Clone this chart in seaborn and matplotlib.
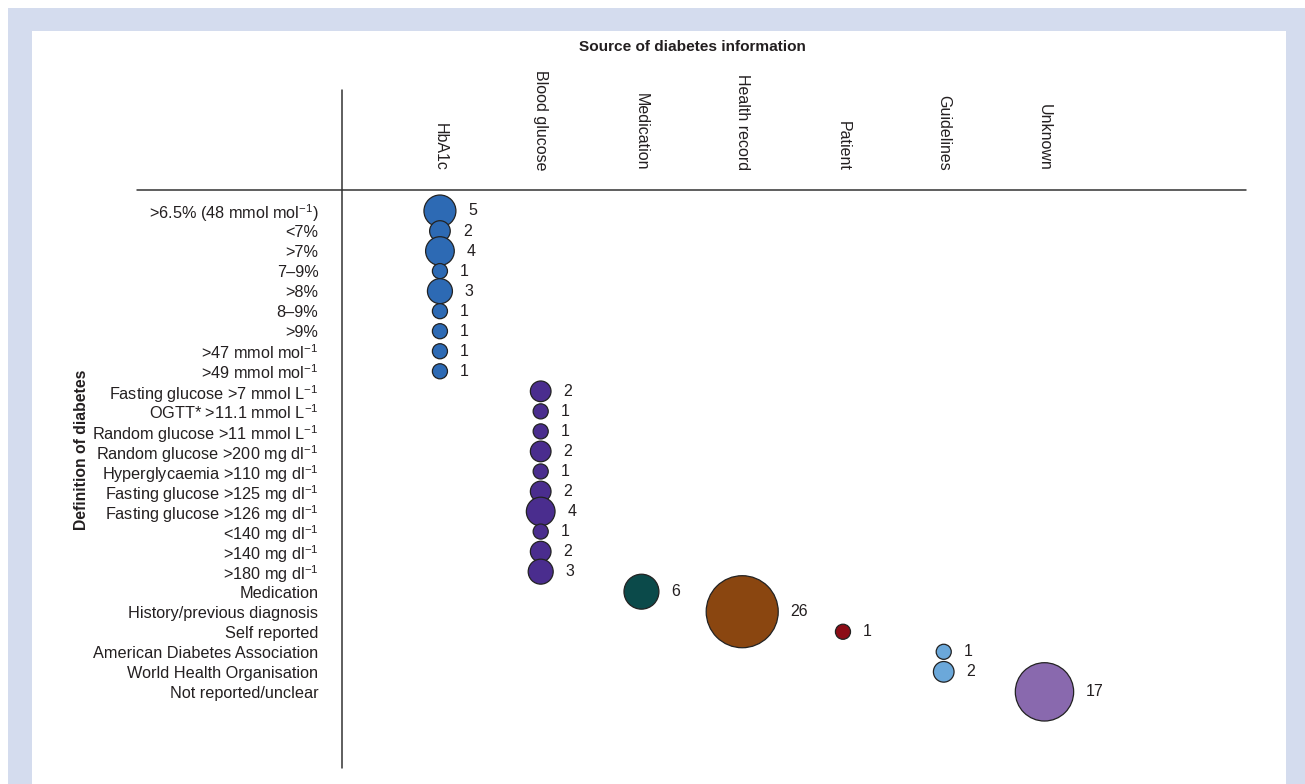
import matplotlib
matplotlib.use("Agg")
import matplotlib.pyplot as plt
from matplotlib.patches import Rectangle
from matplotlib.lines import Line2D
import seaborn as sns
import pandas as pd
import numpy as np

sources = ["HbA1c", "Blood glucose", "Medication", "Health record",
           "Patient", "Guidelines", "Unknown"]
definitions = [
    r">6.5% (48 mmol mol$^{-1}$)", "<7%", ">7%", "7\u20139%", ">8%", "8\u20139%", ">9%",
    r">47 mmol mol$^{-1}$", r">49 mmol mol$^{-1}$",
    r"Fasting glucose >7 mmol L$^{-1}$", r"OGTT* >11.1 mmol L$^{-1}$",
    r"Random glucose >11 mmol L$^{-1}$", r"Random glucose >200 mg dl$^{-1}$",
    r"Hyperglycaemia >110 mg dl$^{-1}$", r"Fasting glucose >125 mg dl$^{-1}$",
    r"Fasting glucose >126 mg dl$^{-1}$", r"<140 mg dl$^{-1}$", r">140 mg dl$^{-1}$",
    r">180 mg dl$^{-1}$",
    "Medication", "History/previous diagnosis", "Self reported",
    "American Diabetes Association", "World Health Organisation", "Not reported/unclear",
]
definition_source = (["HbA1c"] * 9 + ["Blood glucose"] * 10 + ["Medication", "Health record",
                     "Patient", "Guidelines", "Guidelines", "Unknown"])
counts = [5, 2, 4, 1, 3, 1, 1, 1, 1,
          2, 1, 1, 2, 1, 2, 4, 1, 2, 3,
          6, 26, 1, 1, 2, 17]
source_colors = ["#2d6ab4", "#4a2d8e", "#0b4a4a", "#8a4610", "#8c0c16", "#6ba8da", "#8969ae"]

df = pd.DataFrame({
    "row": np.arange(len(definitions)),
    "col": [sources.index(s) for s in definition_source],
    "source": definition_source,
    "count": counts,
})

sns.set_theme(style="white")
plt.rcParams["font.family"] = ["Liberation Sans", "DejaVu Sans"]
plt.rcParams["mathtext.fontset"] = "custom"
plt.rcParams["mathtext.rm"] = "Liberation Sans"
plt.rcParams["mathtext.it"] = "Liberation Sans:italic"
plt.rcParams["mathtext.bf"] = "Liberation Sans:bold"

W, H = 1305, 784
fig = plt.figure(figsize=(W / 100, H / 100), dpi=100)
fig.patch.set_facecolor("white")

# frame
fig.add_artist(Rectangle((8 / W, 0), 1 - 8 / W, (H - 8) / H, transform=fig.transFigure,
                         facecolor="#d4dcee", edgecolor="none", zorder=-10))
fig.add_artist(Rectangle((32 / W, 0), (1286 - 32) / W, (H - 31) / H, transform=fig.transFigure,
                         facecolor="white", edgecolor="none", zorder=-9))

ax_left, ax_right, ax_top, ax_bottom = 342, 1246, 190, 768
ax = fig.add_axes([ax_left / W, 1 - ax_bottom / H, (ax_right - ax_left) / W,
                   (ax_bottom - ax_top) / H])
ax.set_facecolor("none")

smin, smax = 118, 2690
palette = dict(zip(sources, source_colors))
sns.scatterplot(data=df, x="col", y="row", hue="source", palette=palette,
                size="count", sizes=(smin, smax), size_norm=(1, 26),
                edgecolor="#222222", linewidth=0.9, alpha=1, legend=False, ax=ax, zorder=3)

for _, r in df.iterrows():
    s = smin + (r["count"] - 1) / 25 * (smax - smin)
    rad = np.sqrt(s) / 2
    ax.annotate(str(r["count"]), (r["col"], r["row"]), xytext=(rad + 9, 0),
                textcoords="offset points", ha="left", va="center",
                fontsize=11.5, color="#231f20")

ax.set_xlim(-0.972, 8.0)
ax.set_ylim(27.8, -1.048)
ax.set_xticks(range(len(sources)))
ax.set_xticklabels(sources, rotation=270, fontsize=11.5, color="#231f20")
ax.xaxis.tick_top()
ax.set_yticks(range(len(definitions)))
ax.set_yticklabels(definitions, fontsize=11.7, color="#231f20")
ax.tick_params(axis="x", length=0, pad=14)
ax.tick_params(axis="y", length=0, pad=17)
ax.set_xlabel("")
ax.set_ylabel("")
for sp in ax.spines.values():
    sp.set_visible(False)

# axis lines
fig.add_artist(Line2D([137 / W, 1246 / W], [1 - 190 / H, 1 - 190 / H], transform=fig.transFigure,
                      color="#333333", linewidth=1.1))
fig.add_artist(Line2D([342 / W, 342 / W], [1 - 90 / H, 1 - 768 / H], transform=fig.transFigure,
                      color="#333333", linewidth=1.1))

fig.text(692 / W, 1 - 47 / H, "Source of diabetes information", ha="center", va="center",
         fontsize=11.1, fontweight="bold", color="#231f20")
fig.text(81 / W, 1 - 450 / H, "Definition of diabetes", ha="center", va="center",
         rotation=90, fontsize=11.3, fontweight="bold", color="#231f20")

fig.savefig("out.png", dpi=100)
